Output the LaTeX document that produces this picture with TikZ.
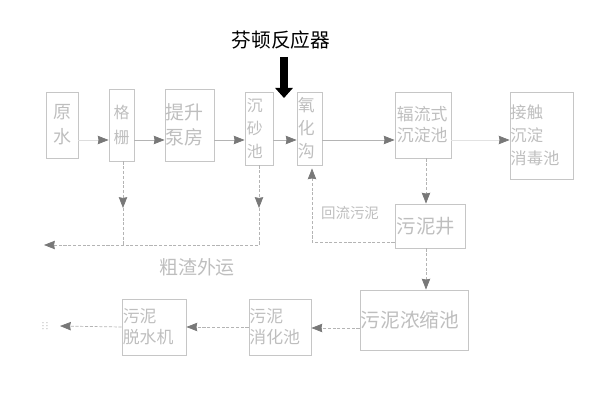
\documentclass[tikz,border=0pt]{standalone}
\usepackage{fontspec}
\setmainfont{Noto Sans CJK SC}
\usetikzlibrary{arrows.meta}
\definecolor{boxgray}{HTML}{C6C6C6}
\definecolor{textgray}{HTML}{BEBEBE}
\definecolor{linegray}{HTML}{B4B4B4}
\definecolor{tipgray}{HTML}{787878}
\tikzset{
  box/.style={draw=boxgray,line width=0.6pt,inner sep=0pt,text=textgray,align=center},
  lefted/.style={align=left},
  label/.style={inner sep=0pt,text=textgray},
  tip/.style={-{Stealth[length=0.27cm,width=0.21cm,inset=0.02cm,color=tipgray]}},
  pipe/.style={draw=linegray,line width=0.5pt,tip},
  dashpipe/.style={draw=linegray,line width=0.5pt,dash pattern=on 2.2pt off 1.2pt},
  fs/.style 2 args={font=\fontsize{#1pt}{#2pt}\selectfont}
}
\begin{document}
\begin{tikzpicture}[x=0.025cm,y=-0.025cm]
    \useasboundingbox (0,0) rectangle (600,400);
    \node[box,fs={12.8}{17.7},minimum width=0.8cm,minimum height=1.65cm] (yuan) at (62,125) {原\\水};
    \node[box,fs={11.3}{17.7},minimum width=0.625cm,minimum height=1.8cm] (gezha) at (121.5,125) {格\\栅};
    \node[box,lefted,fs={13.5}{17.7},text width=1.175cm,minimum width=1.225cm,minimum height=1.8cm] (tisheng) at (189.5,125) {提升\\泵房};
    \node[box,lefted,fs={11.3}{16.3},text width=0.6cm,minimum width=0.7cm,minimum height=1.825cm] (chensha) at (259,128.5) {沉\\砂\\池};
    \node[box,lefted,fs={12}{16.3},text width=0.575cm,minimum width=0.625cm,minimum height=1.825cm] (yanghua) at (309.5,128.5) {氧\\化\\沟};
    \node[box,lefted,fs={12}{15},text width=1.3cm,minimum width=1.4cm,minimum height=1.65cm] (fuliu) at (423,125) {辐流式\\沉淀池};
    \node[box,lefted,fs={11.6}{16.3},text width=1.55cm,minimum width=1.575cm,minimum height=2.175cm] (jiechu) at (541.5,135.5) {接触\\沉淀\\消毒池};
    \node[box,lefted,fs={13.8}{18},text width=1.65cm,minimum width=1.75cm,minimum height=1.1cm] (wunijing) at (430,226) {\raisebox{-3.5pt}{污泥井}};
    \node[box,lefted,fs={14}{18},text width=2.66cm,minimum width=2.7cm,minimum height=1.5cm] (nongsuo) at (414,320) {\raisebox{-1.5pt}{污泥浓缩池}};
    \node[box,lefted,fs={12}{15},text width=1.56cm,minimum width=1.6cm,minimum height=1.4cm] (tuoshui) at (154,327) {污泥\\脱水机};
    \node[box,lefted,fs={12}{15},text width=1.53cm,minimum width=1.55cm,minimum height=1.4cm] (xiaohua) at (280,327) {污泥\\消化池};
    \node[fs={14}{16},inner sep=0pt] (fenton) at (281,40) {芬顿反应器};
    \node[label,fs={10.3}{12}] (huiliu) at (350,213) {回流污泥};
    \node[label,fs={13.5}{16}] (cuzha) at (197,267) {粗渣外运};
    \node[label,fs={7}{8},rotate=90] (waiyun) at (45,326) {:::};
    \coordinate (heavytop) at (284,57);
    \coordinate (heavytip) at (284,98);
    \coordinate (mainline) at (0,140);
    \coordinate (gedown) at (123,208);
    \coordinate (chendown) at (259,208);
    \coordinate (gejoin) at (123,245);
    \coordinate (chenjoin) at (259,245);
    \coordinate (slagtip) at (44,245);
    \coordinate (backcorner) at (312,242);
    \coordinate (sludgeline) at (426,0);
    \coordinate (lowline) at (0,328);
    \draw[line width=5.7pt,-{Triangle[length=0.25cm,width=0.43cm]}] (heavytop) -- (heavytip);
    \foreach \from/\to in {gezha/tisheng,tisheng/chensha,chensha/yanghua,yanghua/fuliu}
    \draw[pipe] (\from.east |- mainline) -- (\to.west |- mainline);
    \draw[pipe,draw=boxgray!60] (yuan.east |- mainline) -- (gezha.west |- mainline);
    \draw[pipe,draw=boxgray!50] (fuliu.east |- mainline) -- (jiechu.west |- mainline);
    \draw[dashpipe,tip] (gezha.south -| gedown) -- (gedown);
    \draw[dashpipe,tip] (chensha.south -| chendown) -- (chendown);
    \draw[dashpipe] (gedown) -- (gejoin);
    \draw[dashpipe,tip] (chendown) -- (chenjoin) -- (slagtip);
    \draw[dashpipe,tip] (wunijing.west |- backcorner) -- (backcorner) -- ([yshift=-0.075cm]backcorner |- yanghua.south);
    \draw[dashpipe,tip] (sludgeline |- fuliu.south) -- (sludgeline |- wunijing.north);
    \draw[dashpipe,tip] (sludgeline |- wunijing.south) -- (sludgeline |- nongsuo.north);
    \draw[dashpipe,tip] (nongsuo.west |- lowline) -- (xiaohua.east |- lowline);
    \draw[dashpipe,tip] (xiaohua.west) -- (tuoshui.east);
    \draw[dashpipe,tip] (tuoshui.west) -- ([xshift=0.375cm]waiyun.center);
  \end{tikzpicture}
\end{document}
